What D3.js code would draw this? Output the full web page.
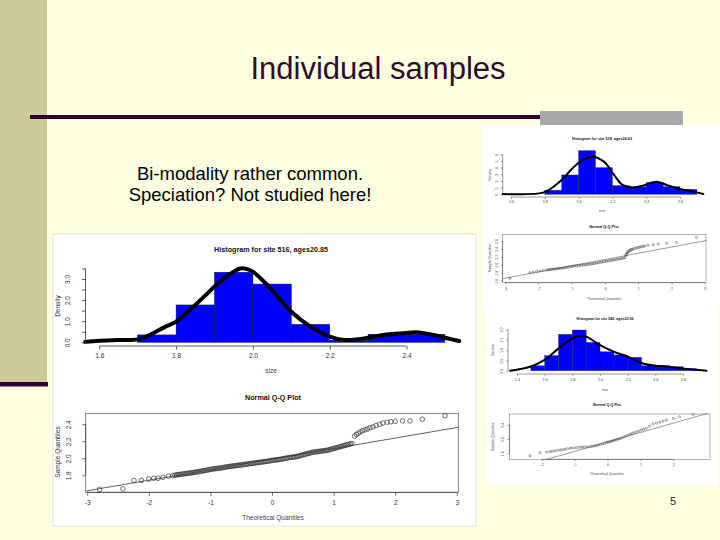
<!DOCTYPE html>
<html>
<head>
<meta charset="utf-8">
<script src="https://cdn.jsdelivr.net/npm/d3@7"></script>
<style>
body { margin: 0; background: #ffffe1; }
text { font-family: "Liberation Sans", Arial, sans-serif; }
</style>
</head>
<body>
<div id="chart-area"></div>
<script>
/*
*    slide: individual samples
*/

var w = 720;
var h = 540;

// ---- slide text ----
var slideTitle = "Individual samples";
var slideLines = ["Bi-modality rather common.", "Speciation? Not studied here!"];
var pageNumber = "5";

// ---- main histogram (site 516) ----
var mainTitle = "Histogram for site 516, ages20.85";
var mainBreaks = [1.6, 1.7, 1.8, 1.9, 2.0, 2.1, 2.2, 2.3, 2.4, 2.5];
var mainDensity = [0.0, 0.35, 1.77, 3.32, 2.76, 0.85, 0.10, 0.38, 0.38];
var mainKdeX = [1.563, 1.6, 1.645, 1.7, 1.732, 1.77, 1.8, 1.845, 1.875, 1.9, 1.93, 1.95, 1.967, 1.985, 2.0, 2.037, 2.08, 2.1, 2.15, 2.2, 2.237, 2.28, 2.34, 2.393, 2.43, 2.47, 2.506, 2.537];
var mainKdeY = [0.02, 0.07, 0.11, 0.14, 0.35, 0.72, 0.98, 1.69, 2.2, 2.64, 3.1, 3.35, 3.5, 3.47, 3.35, 2.72, 1.85, 1.45, 0.74, 0.27, 0.11, 0.16, 0.35, 0.43, 0.47, 0.35, 0.19, 0.06];
var mainXTicks = [1.6, 1.8, 2.0, 2.2, 2.4];
var mainYTicks = [0, 0.5, 1, 1.5, 2, 2.5, 3, 3.5];

// ---- main Q-Q plot ----
var mainQQTheo = [-2.80, -2.42, -2.24, -2.12, -2.00, -1.92, -1.85, -1.77, -1.68, -1.61,
    -1.575, -1.55, -1.525, -1.50, -1.475, -1.45, -1.425, -1.40, -1.375, -1.35, -1.325, -1.30,
    -1.275, -1.25, -1.225, -1.20, -1.175, -1.15, -1.125, -1.10, -1.075, -1.05, -1.025, -1.00,
    -0.975, -0.95, -0.925, -0.90, -0.875, -0.85, -0.825, -0.80, -0.775, -0.75, -0.725, -0.70,
    -0.675, -0.65, -0.625, -0.60, -0.575, -0.55, -0.525, -0.50, -0.475, -0.45, -0.425, -0.40,
    -0.375, -0.35, -0.325, -0.30, -0.275, -0.25, -0.225, -0.20, -0.175, -0.15, -0.125, -0.10,
    -0.075, -0.05, -0.025, 0.00, 0.025, 0.05, 0.075, 0.10, 0.125, 0.15, 0.175, 0.20,
    0.225, 0.25, 0.275, 0.30, 0.325, 0.35, 0.375, 0.40, 0.425, 0.45, 0.475, 0.50,
    0.525, 0.55, 0.575, 0.60, 0.625, 0.65, 0.675, 0.70, 0.725, 0.75, 0.775, 0.80,
    0.825, 0.85, 0.875, 0.90, 0.925, 0.95, 0.975, 1.00, 1.025, 1.05, 1.075, 1.10,
    1.125, 1.15, 1.175, 1.20, 1.225, 1.25, 1.275, 1.30,
    1.34, 1.37, 1.40, 1.43, 1.47, 1.51, 1.55, 1.59, 1.64, 1.69, 1.75, 1.80, 1.87, 1.93,
    2.00, 2.12, 2.24, 2.44, 2.81];
var mainQQSample = [1.635, 1.64, 1.74, 1.74, 1.757, 1.765, 1.765, 1.776, 1.79, 1.795,
    1.802, 1.805, 1.807, 1.81, 1.812, 1.815, 1.817, 1.82, 1.822, 1.825, 1.828, 1.83,
    1.833, 1.836, 1.839, 1.842, 1.845, 1.848, 1.852, 1.855, 1.858, 1.862, 1.866, 1.87,
    1.872, 1.875, 1.877, 1.88, 1.882, 1.885, 1.887, 1.89, 1.894, 1.897, 1.90, 1.903,
    1.905, 1.908, 1.91, 1.913, 1.915, 1.918, 1.92, 1.923, 1.925, 1.928, 1.93, 1.933,
    1.935, 1.938, 1.94, 1.943, 1.945, 1.948, 1.95, 1.953, 1.955, 1.958, 1.96, 1.963,
    1.965, 1.968, 1.972, 1.975, 1.977, 1.98, 1.982, 1.985, 1.987, 1.99, 1.994, 1.997,
    2.001, 2.005, 2.007, 2.01, 2.012, 2.015, 2.017, 2.02, 2.025, 2.03, 2.035, 2.04,
    2.045, 2.05, 2.055, 2.06, 2.065, 2.07, 2.072, 2.075, 2.077, 2.08, 2.082, 2.085,
    2.087, 2.09, 2.092, 2.095, 2.10, 2.105, 2.11, 2.115, 2.12, 2.125, 2.13, 2.135,
    2.14, 2.145, 2.15, 2.155, 2.16, 2.165, 2.17, 2.175,
    2.26, 2.28, 2.295, 2.31, 2.325, 2.335, 2.345, 2.36, 2.37, 2.385, 2.40, 2.415, 2.425, 2.43,
    2.435, 2.44, 2.44, 2.46, 2.50];
var mainQQLineX = [-3.024, 3.024];
var mainQQLineY = [1.615, 2.365];
var mainQQXTicks = [-3, -2, -1, 0, 1, 2, 3];
var mainQQYTicks = [1.8, 2.0, 2.2, 2.4];

// ---- top right histogram ----
var trTitle = "Histogram for site 518, ages20.62";
var trBreaks = [1.8, 1.9, 2.0, 2.1, 2.2, 2.3, 2.4, 2.5, 2.6, 2.7];
var trDensity = [0.6, 2.9, 6.55, 4.0, 1.3, 1.15, 1.75, 1.15, 0.75];
var trKdeX = [1.551, 1.79, 1.85, 1.91, 1.96, 2.01, 2.08, 2.15, 2.21, 2.26, 2.32, 2.38, 2.46, 2.52, 2.60, 2.68, 2.738];
var trKdeY = [0.05, 0.25, 1.1, 2.4, 3.8, 4.9, 5.65, 4.9, 2.9, 1.4, 1.0, 1.3, 1.9, 1.4, 0.8, 0.4, 0.05];
var trXTicks = [1.6, 1.8, 2.0, 2.2, 2.4, 2.6];
var trYTicks = [0, 1, 2, 3, 4, 5, 6];

var trQQTheo = [-2.85, -2.25, -2.15, -2.05, -1.95, -1.85, -1.75, -1.70, -1.65, -1.60, -1.55,
    -1.50, -1.45, -1.40, -1.35, -1.30, -1.25, -1.20, -1.15, -1.10, -1.05, -1.00, -0.95,
    -0.90, -0.85, -0.80, -0.75, -0.70, -0.65, -0.60, -0.55, -0.50, -0.45, -0.40, -0.35,
    -0.30, -0.25, -0.20, -0.15, -0.10, -0.05, 0.00, 0.05, 0.10, 0.15, 0.20, 0.25, 0.30,
    0.35, 0.40, 0.45, 0.50, 0.55, 0.60, 0.62, 0.64, 0.66, 0.68, 0.70, 0.73, 0.75, 0.78,
    0.80, 0.85, 0.90, 0.95, 1.00, 1.05, 1.10, 1.15, 1.20, 1.30, 1.45, 1.60, 1.85, 2.15, 2.75];
var trQQSample = [1.66, 1.80, 1.82, 1.836, 1.845, 1.855, 1.87, 1.875, 1.88, 1.885, 1.89,
    1.895, 1.90, 1.905, 1.91, 1.915, 1.92, 1.927, 1.935, 1.942, 1.95, 1.957, 1.965,
    1.97, 1.975, 1.98, 1.985, 1.99, 1.995, 2.0, 2.005, 2.01, 2.015, 2.022, 2.03,
    2.037, 2.045, 2.052, 2.06, 2.067, 2.075, 2.082, 2.09, 2.097, 2.105, 2.112, 2.12, 2.127,
    2.135, 2.142, 2.15, 2.157, 2.165, 2.18, 2.23, 2.26, 2.29, 2.31, 2.33, 2.35, 2.36, 2.375,
    2.385, 2.40, 2.41, 2.425, 2.435, 2.445, 2.455, 2.462, 2.47, 2.49, 2.505, 2.52, 2.54, 2.56, 2.69];
var trQQLineX = [-3.05, 3.05];
var trQQLineY = [1.655, 2.61];
var trQQXTicks = [-3, -2, -1, 0, 1, 2, 3];
var trQQYTicks = [1.6, 1.8, 2.0, 2.2, 2.4, 2.6];

// ---- lower right histogram ----
var brTitle = "Histogram for site 545, ages22.96";
var brBreaks = [1.5, 1.6, 1.7, 1.8, 1.9, 2.0, 2.1, 2.2, 2.3, 2.4, 2.5, 2.6, 2.7];
var brDensity = [0.24, 0.73, 1.76, 1.97, 1.37, 0.92, 0.76, 0.65, 0.24, 0.24, 0.19, 0.11];
var brKdeX = [1.35, 1.494, 1.6, 1.7, 1.8, 1.855, 1.9, 2.0, 2.1, 2.2, 2.31, 2.4, 2.5, 2.6, 2.71, 2.77];
var brKdeY = [0.0, 0.19, 0.52, 1.08, 1.56, 1.68, 1.65, 1.24, 0.92, 0.68, 0.35, 0.24, 0.19, 0.11, 0.03, 0.0];
var brXTicks = [1.4, 1.6, 1.8, 2.0, 2.2, 2.4, 2.6];
var brYTicks = [0, 0.5, 1, 1.5, 2];

var brQQTheo = [-2.35, -2.05, -1.85, -1.75, -1.68, -1.6, -1.52, -1.44, -1.37, -1.3, -1.22,
    -1.14, -1.07, -1.0, -0.92, -0.84, -0.77, -0.7, -0.62, -0.54, -0.47, -0.4, -0.34,
    -0.28, -0.22, -0.15, -0.09, -0.03, 0.02, 0.07, 0.12, 0.17, 0.22, 0.27, 0.32, 0.37,
    0.43, 0.5, 0.56, 0.63, 0.69, 0.75, 0.81, 0.88, 0.95, 1.03, 1.1, 1.18, 1.28, 1.38,
    1.49, 1.59, 1.69, 1.79, 2.0, 2.19, 2.6];
var brQQSample = [1.53, 1.62, 1.635, 1.647, 1.658, 1.67, 1.68, 1.69, 1.702, 1.715, 1.727,
    1.74, 1.748, 1.755, 1.761, 1.767, 1.772, 1.777, 1.781, 1.786, 1.795, 1.805, 1.817,
    1.83, 1.847, 1.865, 1.882, 1.90, 1.912, 1.925, 1.94, 1.953, 1.967, 1.98, 1.995, 2.01,
    2.035, 2.06, 2.085, 2.11, 2.133, 2.155, 2.177, 2.20, 2.225, 2.25, 2.275, 2.30, 2.36, 2.42,
    2.445, 2.47, 2.50, 2.53, 2.575, 2.62, 2.69];
var brQQLineX = [-1.85, 3.05];
var brQQLineY = [1.43, 2.72];
var brQQXTicks = [-2, -1, 0, 1, 2];
var brQQYTicks = [1.6, 2.0, 2.4];

var svg = d3.select("#chart-area").append("svg")
    .attr("width", w)
    .attr("height", h);

// slide background and decorations
svg.append("rect").attr("width", w).attr("height", h).attr("fill", "#ffffe1");
svg.append("rect").attr("x", 0).attr("y", 0).attr("width", 47).attr("height", 382).attr("fill", "#cbcb99");
svg.append("rect").attr("x", 0).attr("y", 382).attr("width", 48).attr("height", 4.5).attr("fill", "#330033");
svg.append("rect").attr("x", 30).attr("y", 115).attr("width", 510).attr("height", 4).attr("fill", "#330033");
svg.append("rect").attr("x", 540).attr("y", 111).attr("width", 143).attr("height", 14).attr("fill", "#a8a8a8");

svg.append("text")
    .attr("x", 378)
    .attr("y", 79)
    .attr("text-anchor", "middle")
    .attr("font-size", "31px")
    .attr("fill", "#2e0a2e")
    .text(slideTitle);

svg.selectAll("text.sub")
    .data(slideLines)
    .enter().append("text")
    .attr("class", "sub")
    .attr("x", 250)
    .attr("y", (d, i) => 180 + i * 21)
    .attr("text-anchor", "middle")
    .attr("font-size", "18.5px")
    .attr("fill", "#000")
    .text((d) => d);

svg.append("text")
    .attr("x", 673)
    .attr("y", 505)
    .attr("text-anchor", "middle")
    .attr("font-size", "11px")
    .attr("fill", "#222")
    .text(pageNumber);

// picture frames
svg.append("rect").attr("x", 53).attr("y", 234).attr("width", 423).attr("height", 292)
    .attr("fill", "#fff").attr("stroke", "#e2e2e2");
svg.append("rect").attr("x", 482).attr("y", 125).attr("width", 238).attr("height", 183)
    .attr("fill", "#fff");
svg.append("rect").attr("x", 486).attr("y", 308).attr("width", 232).attr("height", 178)
    .attr("fill", "#fff");

function bottomAxis(g, x, ticks, yPos, c, fmt) {
    var ax = g.append("g")
        .attr("transform", "translate(0," + yPos + ")")
        .call(d3.axisBottom(x).tickValues(ticks).tickSize(c.tick).tickPadding(c.pad)
            .tickFormat(fmt))
        .attr("font-family", "Liberation Sans, Arial, sans-serif")
        .attr("font-size", c.fs);
    ax.select(".domain").remove();
    ax.selectAll("line").attr("stroke", "#333").attr("stroke-width", c.sw);
    ax.selectAll("text").attr("fill", "#333");
    ax.append("line")
        .attr("x1", x(ticks[0])).attr("x2", x(ticks[ticks.length - 1]))
        .attr("stroke", "#333").attr("stroke-width", c.sw);
}

function leftAxis(g, y, ticks, xPos, c, fmt) {
    var ax = g.append("g")
        .attr("transform", "translate(" + xPos + ",0)")
        .call(d3.axisLeft(y).tickValues(ticks).tickSize(c.tick).tickFormat(fmt))
        .attr("font-family", "Liberation Sans, Arial, sans-serif")
        .attr("font-size", c.fs);
    ax.select(".domain").remove();
    ax.selectAll("line").attr("stroke", "#333").attr("stroke-width", c.sw);
    ax.selectAll("text")
        .attr("x", 0)
        .attr("dy", 0)
        .attr("text-anchor", "middle")
        .attr("fill", "#333")
        .attr("transform", "translate(" + (-c.lab) + ",0) rotate(-90)");
    ax.append("line")
        .attr("y1", y(ticks[0])).attr("y2", y(ticks[ticks.length - 1]))
        .attr("stroke", "#333").attr("stroke-width", c.sw);
}

function labels(g, c, title, xt, yt) {
    g.append("text").attr("x", c.cx).attr("y", c.titleY).attr("text-anchor", "middle")
        .attr("font-size", c.tfs).attr("font-weight", "bold").attr("fill", "#111").text(title);
    g.append("text").attr("x", c.cx).attr("y", c.xtY).attr("text-anchor", "middle")
        .attr("font-size", c.fs).attr("fill", "#444").text(xt);
    g.append("text").attr("transform", "translate(" + c.ytX + "," + c.ytY + ") rotate(-90)")
        .attr("text-anchor", "middle")
        .attr("font-size", c.fs).attr("fill", "#333").text(yt);
}

function drawHist(c, breaks, dens, kx, ky, xt, yt, yFmt, title) {
    var g = svg.append("g");
    var x = d3.scaleLinear().domain(c.xDom).range(c.xRan);
    var y = d3.scaleLinear().domain(c.yDom).range(c.yRan);

    g.selectAll("rect")
        .data(dens)
        .enter().append("rect")
        .attr("x", (d, i) => x(breaks[i]))
        .attr("width", (d, i) => x(breaks[i + 1]) - x(breaks[i]))
        .attr("y", (d) => y(d))
        .attr("height", (d) => y(0) - y(d))
        .attr("fill", "#0000ff")
        .attr("stroke", "#101040")
        .attr("stroke-width", c.sw * 0.6);

    var line = d3.line()
        .x((d) => x(d))
        .y((d, i) => y(ky[i]))
        .curve(d3.curveCatmullRom);

    g.append("path")
        .attr("d", line(kx))
        .attr("fill", "none")
        .attr("stroke", "#000")
        .attr("stroke-width", c.lw)
        .attr("stroke-linejoin", "round")
        .attr("stroke-linecap", "round");

    bottomAxis(g, x, xt, c.xAxisY, c, (d) => d.toFixed(1));
    leftAxis(g, y, yt, c.yAxisX, c, yFmt);
    labels(g, c, title, "size", "Density");
}

function drawQQ(c, qx, qy, lx, ly, xt, yt, title) {
    var g = svg.append("g");
    var x = d3.scaleLinear().domain(c.xDom).range(c.xRan);
    var y = d3.scaleLinear().domain(c.yDom).range(c.yRan);

    g.append("rect")
        .attr("x", c.box[0]).attr("y", c.box[1])
        .attr("width", c.box[2] - c.box[0]).attr("height", c.box[3] - c.box[1])
        .attr("fill", "none").attr("stroke", "#555").attr("stroke-width", c.sw);

    g.append("line")
        .attr("x1", x(lx[0])).attr("y1", y(ly[0]))
        .attr("x2", x(lx[1])).attr("y2", y(ly[1]))
        .attr("stroke", "#444").attr("stroke-width", c.sw * 1.2);

    g.selectAll("circle")
        .data(qx)
        .enter().append("circle")
        .attr("cx", (d) => x(d))
        .attr("cy", (d, i) => y(qy[i]))
        .attr("r", c.r)
        .attr("fill", "none")
        .attr("stroke", "#333")
        .attr("stroke-width", c.sw);

    bottomAxis(g, x, xt, c.box[3], c, (d) => String(d));
    leftAxis(g, y, yt, c.box[0], c, (d) => d.toFixed(1));
    labels(g, c, title, "Theoretical Quantiles", "Sample Quantiles");
}

// main panel
drawHist({
    xDom: [1.6, 2.4], xRan: [99.3, 406.5], yDom: [0, 3], yRan: [342.3, 279],
    xAxisY: 346, yAxisX: 85.5, tick: 3.5, pad: 4, lab: 15.5, fs: 6.5, tfs: 7.2,
    sw: 0.8, lw: 4, cx: 271, titleY: 252, xtY: 373, ytX: 60, ytY: 306
}, mainBreaks, mainDensity, mainKdeX, mainKdeY, mainXTicks, mainYTicks,
    (d) => (d % 1 === 0 ? d.toFixed(1) : ""), mainTitle);

drawQQ({
    xDom: [-3, 3], xRan: [87.2, 456.8], yDom: [1.8, 2.4], yRan: [475.3, 424.3],
    box: [85.7, 413.3, 458.3, 492.3], tick: 3.5, pad: 5, lab: 15, fs: 6.5, tfs: 7.2,
    sw: 0.7, r: 2.3, cx: 273, titleY: 400, xtY: 520, ytX: 60, ytY: 452
}, mainQQTheo, mainQQSample, mainQQLineX, mainQQLineY, mainQQXTicks, mainQQYTicks,
    "Normal Q-Q Plot");

// top right panel
drawHist({
    xDom: [1.6, 2.6], xRan: [511, 680], yDom: [0, 6], yRan: [194.3, 154.3],
    xAxisY: 197, yAxisX: 502.7, tick: 1.8, pad: 2, lab: 5, fs: 3.6, tfs: 3.8,
    sw: 0.5, lw: 2, cx: 602, titleY: 140, xtY: 212, ytX: 491, ytY: 175
}, trBreaks, trDensity, trKdeX, trKdeY, trXTicks, trYTicks,
    (d) => String(d), trTitle);

drawQQ({
    xDom: [-3, 3], xRan: [505, 704.8], yDom: [1.6, 2.6], yRan: [280.7, 240.9],
    box: [502.7, 234.5, 706, 282.7], tick: 1.8, pad: 2.5, lab: 5, fs: 3.6, tfs: 3.8,
    sw: 0.45, r: 1.1, cx: 604, titleY: 228, xtY: 300, ytX: 491, ytY: 258
}, trQQTheo, trQQSample, trQQLineX, trQQLineY, trQQXTicks, trQQYTicks,
    "Normal Q-Q Plot");

// lower right panel
drawHist({
    xDom: [1.6, 2.6], xRan: [544.7, 683], yDom: [0, 2], yRan: [370.7, 329.4],
    xAxisY: 374, yAxisX: 508, tick: 1.8, pad: 2.5, lab: 5, fs: 3.6, tfs: 3.6,
    sw: 0.5, lw: 2, cx: 605, titleY: 320, xtY: 391, ytX: 494, ytY: 350
}, brBreaks, brDensity, brKdeX, brKdeY, brXTicks, brYTicks,
    (d) => d.toFixed(1), brTitle);

drawQQ({
    xDom: [-2, 2], xRan: [541.7, 673.3], yDom: [1.6, 2.4], yRan: [453.3, 424.7],
    box: [509.3, 414, 710, 459.3], tick: 1.8, pad: 2.5, lab: 5, fs: 3.6, tfs: 3.6,
    sw: 0.45, r: 1.1, cx: 607, titleY: 406, xtY: 475, ytX: 494, ytY: 437
}, brQQTheo, brQQSample, brQQLineX, brQQLineY, brQQXTicks, brQQYTicks,
    "Normal Q-Q Plot");
</script>
</body>
</html>
